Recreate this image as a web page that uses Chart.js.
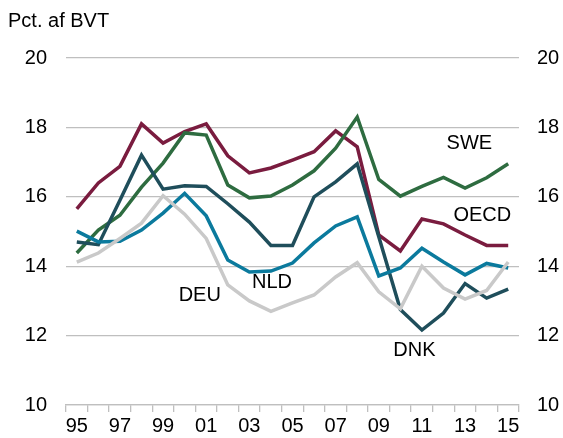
<!DOCTYPE html>
<html>
<head>
<meta charset="utf-8">
<script src="https://cdn.jsdelivr.net/npm/chart.js@4/dist/chart.umd.min.js"></script>
<style>
  html, body { margin: 0; padding: 0; background: #fff; }
  #wrap { width: 563px; height: 438px; }
</style>
</head>
<body>
<div id="wrap"><canvas id="c" width="563" height="438"></canvas></div>
<script>
// Years 1995-2015
const years = ["95","96","97","98","99","00","01","02","03","04","05","06","07","08","09","10","11","12","13","14","15"];
const yTicks = [10, 12, 14, 16, 18, 20];

const oecd = [15.65, 16.4, 16.88, 18.1, 17.55, 17.88, 18.1, 17.18, 16.69, 16.83, 17.06, 17.3, 17.9, 17.44, 14.9, 14.44, 15.36, 15.22, 14.9, 14.6, 14.6];
const swe  = [14.38, 15.04, 15.47, 16.28, 16.97, 17.84, 17.78, 16.34, 15.97, 16.02, 16.34, 16.75, 17.4, 18.3, 16.5, 16.02, 16.3, 16.56, 16.25, 16.55, 16.95];
const dnk  = [14.7, 14.62, 15.9, 17.2, 16.22, 16.32, 16.3, 15.8, 15.27, 14.6, 14.6, 16.0, 16.43, 16.95, 14.85, 12.75, 12.16, 12.65, 13.5, 13.08, 13.34];
const nld  = [15.01, 14.7, 14.72, 15.04, 15.53, 16.1, 15.45, 14.18, 13.83, 13.86, 14.09, 14.67, 15.16, 15.42, 13.72, 13.95, 14.52, 14.12, 13.75, 14.08, 13.95];
const deu  = [14.12, 14.38, 14.8, 15.24, 16.03, 15.5, 14.8, 13.46, 13.0, 12.7, 12.94, 13.17, 13.69, 14.1, 13.26, 12.77, 14.0, 13.37, 13.05, 13.3, 14.12];

const FONT = "'Liberation Sans', Arial, sans-serif";
const GRID = '#bfbfbf';

function series(label, data, color) {
  return {
    label: label,
    data: data,
    borderColor: color,
    backgroundColor: color,
    borderWidth: 3.5,
    pointRadius: 0,
    tension: 0,
    fill: false
  };
}

// text labels: title + series names placed in data space
const textPlugin = {
  id: 'texts',
  afterDatasetsDraw(chart) {
    const ctx = chart.ctx;
    const xs = chart.scales.x;
    const ys = chart.scales.y;
    const at = (i, v) => [xs.getPixelForValue(0) + i * (xs.getPixelForValue(1) - xs.getPixelForValue(0)), ys.getPixelForValue(v)];
    ctx.save();
    ctx.fillStyle = '#000';
    ctx.font = '20px ' + FONT;
    ctx.textBaseline = 'middle';
    ctx.textAlign = 'left';
    ctx.fillText('Pct. af BVT', 8, 21);
    ctx.textAlign = 'center';
    const names = [
      ['SWE', 18.2, 17.55],
      ['OECD', 18.8, 15.45],
      ['NLD', 9.05, 13.52],
      ['DEU', 5.7, 13.17],
      ['DNK', 15.65, 11.58]
    ];
    names.forEach(([t, i, v]) => {
      const [px, py] = at(i, v);
      ctx.fillText(t, px, py);
    });
    ctx.restore();
  }
};

const tickFont = { family: FONT, size: 20 };

new Chart(document.getElementById('c'), {
  type: 'line',
  data: {
    labels: years,
    datasets: [
      series('DEU', deu, '#c9c9c9'),
      series('NLD', nld, '#0b7a9d'),
      series('DNK', dnk, '#1f4e5b'),
      series('SWE', swe, '#2e6c40'),
      series('OECD', oecd, '#7a1c3f')
    ]
  },
  options: {
    responsive: false,
    animation: false,
    layout: { padding: { top: 58, left: 0, right: 0, bottom: 0 } },
    plugins: {
      legend: { display: false },
      tooltip: { enabled: false }
    },
    scales: {
      x: {
        type: 'category',
        offset: true,
        grid: {
          offset: true,
          drawOnChartArea: false,
          drawTicks: true,
          tickLength: 7,
          color: GRID,
          lineWidth: 1.3
        },
        border: { display: true, color: GRID, width: 1.3 },
        ticks: {
          autoSkip: false,
          maxRotation: 0,
          padding: 2,
          color: '#000',
          font: tickFont,
          callback: function (v, i) { return i % 2 === 0 ? years[i] : ''; }
        },
        afterFit(scale) { scale.height = 33; }
      },
      y: {
        position: 'left',
        min: 10,
        max: 20,
        afterBuildTicks(scale) { scale.ticks = yTicks.map(v => ({ value: v })); },
        grid: { color: GRID, lineWidth: 1.3, drawTicks: false },
        border: { display: false },
        ticks: { padding: 19, color: '#000', font: tickFont },
        afterFit(scale) { scale.width = 66; }
      },
      y2: {
        position: 'right',
        min: 10,
        max: 20,
        afterBuildTicks(scale) { scale.ticks = yTicks.map(v => ({ value: v })); },
        grid: { drawOnChartArea: false, drawTicks: false },
        border: { display: false },
        ticks: { padding: 18, color: '#000', font: tickFont },
        afterFit(scale) { scale.width = 44; }
      }
    }
  },
  plugins: [textPlugin]
});
</script>
</body>
</html>
